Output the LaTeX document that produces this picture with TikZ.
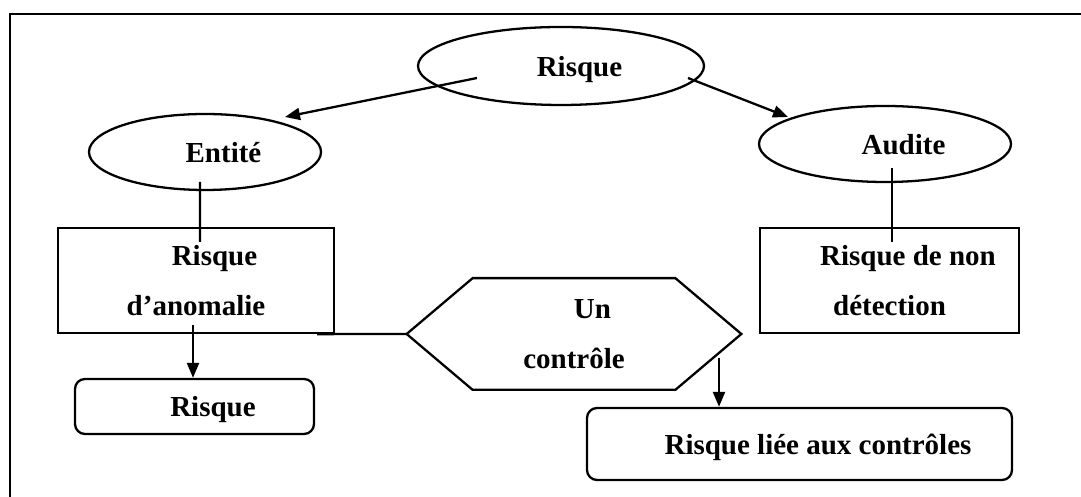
\documentclass[tikz,border=0pt]{standalone}
\usepackage{fontspec}
\setmainfont{Liberation Serif}
\usetikzlibrary{shapes.geometric,arrows.meta,calc}

\newcommand{\firstind}{\hspace*{0.74cm}}

\begin{document}
\begin{tikzpicture}

% definitions
\tikzstyle{bubble} = [ellipse, draw=black, line width=1.3pt, inner sep=0pt, text depth=0pt, text centered, font=\bfseries\fontsize{16.5}{28.5}\selectfont]

\tikzstyle{block} = [rectangle, draw=black, line width=1.3pt, inner sep=0pt, align=center, font=\bfseries\fontsize{16.5}{28.5}\selectfont]

\tikzstyle{rblock} = [rectangle, rounded corners=0.2cm, draw=black, line width=1.3pt, inner sep=0pt, text depth=0pt, align=center, font=\bfseries\fontsize{16.5}{28.5}\selectfont]

\tikzstyle{hexa} = [rectangle, minimum width=6.68cm, minimum height=2.22cm, inner sep=0pt, align=center, font=\bfseries\fontsize{16.5}{28.5}\selectfont]

\tikzstyle{link} = [line width=1.3pt]

\tikzstyle{arrow} = [->, >={Triangle[length=0.3cm,width=0.24cm]}, line width=1.3pt]

\useasboundingbox (0,0) rectangle (21.62,9.94);

% frame
\draw [line width=1.5pt] (0.2,0) -- (0.2,9.66) -- (21.62,9.66);

% the graph
\node (risk) [bubble, minimum width=5.72cm, minimum height=1.56cm] at (11.22,8.62) {\firstind Risque};

\node (entity) [bubble, minimum width=4.64cm, minimum height=1.52cm] at (4.10,6.90) {\firstind Entité};

\node (audit) [bubble, minimum width=5.04cm, minimum height=1.52cm] at (17.70,7.06) {\firstind Audite};

\node (anomaly) [block, minimum width=5.52cm, minimum height=2.10cm] at (3.92,4.33) {\firstind Risque\\d’anomalie};

\node (detection) [block, minimum width=5.18cm, minimum height=2.10cm] at (17.79,4.33) {\firstind Risque de non\\détection};

\node (control) [hexa] at (11.48,3.26) {\firstind Un\\contrôle};
\draw [link] (control.west) -- ([xshift=1.32cm]control.north west) -- ([xshift=-1.32cm]control.north east) -- (control.east) -- ([xshift=-1.32cm]control.south east) -- ([xshift=1.32cm]control.south west) -- cycle;

\node (inherent) [rblock, minimum width=4.78cm, minimum height=1.10cm] at (3.89,1.81) {\firstind Risque};

\node (ctrlrisk) [rblock, minimum width=8.50cm, minimum height=1.44cm] at (15.99,1.06) {\firstind Risque liée aux contrôles};

\coordinate (a0) at ($(anomaly)+(-0.06,-0.89)$);
\coordinate (c0) at ($(control)+(2.90,-0.48)$);

\draw [arrow] ($(risk)+(-1.68,-0.24)$) -- ($(entity)+(1.60,0.70)$);
\draw [arrow] ($(risk)+(2.54,-0.24)$) -- ($(audit)+(-1.94,0.54)$);
\draw [link] ($(entity)+(-0.10,-0.60)$) -- ($(anomaly)+(0.08,0.77)$);
\draw [link] ($(audit)+(0.14,-0.48)$) -- ($(detection)+(0.05,0.77)$);
\draw [link] ([xshift=-0.36cm]anomaly.south east) -- (control.west);
\draw [arrow] (a0) -- (a0 |- inherent.north);
\draw [arrow] (c0) -- (c0 |- ctrlrisk.north);

\end{tikzpicture}
\end{document}
